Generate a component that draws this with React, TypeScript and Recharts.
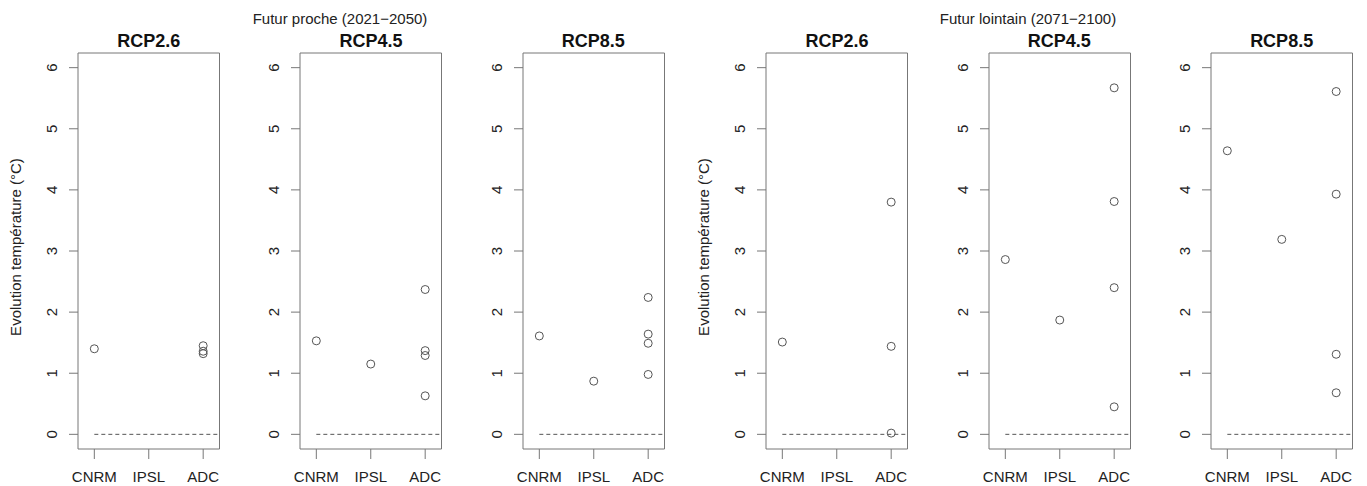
import { ScatterChart, Scatter, XAxis, YAxis, ReferenceLine, ReferenceArea } from "recharts"

// model names on the x axis (positions 1, 2, 3)
const models = ["CNRM", "IPSL", "ADC"]
const scenarios = ["RCP2.6", "RCP4.5", "RCP8.5"]
const periods = ["Futur proche (2021\u22122050)", "Futur lointain (2071\u22122100)"]
const yTicks = [0, 1, 2, 3, 4, 5, 6]
const yLabel = "Evolution température (°C)"

// [model, temperature change]
const procheRcp26: [string, number][] = [["CNRM", 1.4], ["ADC", 1.45], ["ADC", 1.36], ["ADC", 1.32]]
const procheRcp45: [string, number][] = [["CNRM", 1.53], ["IPSL", 1.15], ["ADC", 2.37], ["ADC", 1.37], ["ADC", 1.29], ["ADC", 0.63]]
const procheRcp85: [string, number][] = [["CNRM", 1.61], ["IPSL", 0.87], ["ADC", 2.24], ["ADC", 1.64], ["ADC", 1.49], ["ADC", 0.98]]
const lointainRcp26: [string, number][] = [["CNRM", 1.51], ["ADC", 3.8], ["ADC", 1.44], ["ADC", 0.02]]
const lointainRcp45: [string, number][] = [["CNRM", 2.86], ["IPSL", 1.87], ["ADC", 5.67], ["ADC", 3.81], ["ADC", 2.4], ["ADC", 0.45]]
const lointainRcp85: [string, number][] = [["CNRM", 4.64], ["IPSL", 3.19], ["ADC", 5.61], ["ADC", 3.93], ["ADC", 1.31], ["ADC", 0.68]]

const panels = [
  [procheRcp26, procheRcp45, procheRcp85],
  [lointainRcp26, lointainRcp45, lointainRcp85],
]

const FONT = "'Liberation Sans', Arial, sans-serif"
const BOX_TOP = 53
const BOX_BOTTOM = 449
const BOX_W = 141.5
const Y_AXIS_W = 70
const RIGHT = 4
const H = 486
const X_DOMAIN: [number, number] = [0.7, 3.3]
const Y_DOMAIN: [number, number] = [-0.24, 6.24]

const boxLeft = (g: number, p: number) => 78 + g * 688.3 + p * 222.3

const XTick = (props: any) => (
  <text x={props.x} y={props.y} dy="0.71em" textAnchor="middle" fontSize={15} fill="#222" fontFamily={FONT}>
    {models[props.payload.value - 1]}
  </text>
)

const YTick = (props: any) => (
  <text
    x={props.x}
    y={props.y}
    transform={`rotate(-90 ${props.x} ${props.y})`}
    textAnchor="middle"
    fontSize={15}
    fill="#222"
    fontFamily={FONT}
  >
    {props.payload.value}
  </text>
)

const Ring = (props: any) => (
  <circle cx={props.cx} cy={props.cy} r={4} fill="none" stroke="#555" strokeWidth={1} />
)

function Panel({ data, g, p }: { data: [string, number][]; g: number; p: number }) {
  const points = data.map(([m, v]) => ({ x: models.indexOf(m) + 1, y: v }))
  return (
    <div style={{ position: "absolute", left: boxLeft(g, p) - Y_AXIS_W, top: 0 }}>
      <ScatterChart
        width={Y_AXIS_W + BOX_W + RIGHT}
        height={H}
        margin={{ top: BOX_TOP, right: RIGHT, bottom: 0, left: 0 }}
      >
        <XAxis
          type="number"
          dataKey="x"
          domain={X_DOMAIN}
          allowDataOverflow
          ticks={[1, 2, 3]}
          interval={0}
          height={H - BOX_BOTTOM}
          axisLine={false}
          tickLine={{ stroke: "#777" }}
          tickSize={10}
          tickMargin={12}
          tick={<XTick />}
        />
        <YAxis
          type="number"
          dataKey="y"
          domain={Y_DOMAIN}
          allowDataOverflow
          ticks={yTicks}
          interval={0}
          width={Y_AXIS_W}
          axisLine={false}
          tickLine={{ stroke: "#777" }}
          tickSize={9}
          tickMargin={12}
          tick={<YTick />}
        />
        <ReferenceLine
          segment={[{ x: 1, y: 0 }, { x: X_DOMAIN[1], y: 0 }]}
          stroke="#555"
          strokeDasharray="4 3"
        />
        <ReferenceArea
          x1={X_DOMAIN[0]}
          x2={X_DOMAIN[1]}
          y1={Y_DOMAIN[0]}
          y2={Y_DOMAIN[1]}
          fill="none"
          stroke="#777"
          strokeWidth={1}
        />
        <Scatter data={points} shape={<Ring />} isAnimationActive={false} />
      </ScatterChart>
    </div>
  )
}

export default function App() {
  return (
    <div style={{ position: "absolute", left: 0, top: 0, width: 1367, height: H, background: "#fff" }}>
      {panels.map((group, g) =>
        group.map((data, p) => <Panel key={`${g}-${p}`} data={data} g={g} p={p} />)
      )}
      <svg width={1367} height={H} style={{ position: "absolute", left: 0, top: 0, pointerEvents: "none" }}>
        <text x={340} y={23.5} textAnchor="middle" fontSize={15} fill="#222" fontFamily={FONT}>
          {periods[0]}
        </text>
        <text x={1028} y={23.5} textAnchor="middle" fontSize={15} fill="#222" fontFamily={FONT}>
          {periods[1]}
        </text>
        {panels.map((group, g) =>
          group.map((_, p) => (
            <text
              key={`t${g}-${p}`}
              x={boxLeft(g, p) + BOX_W / 2}
              y={47}
              textAnchor="middle"
              fontSize={18}
              fontWeight="bold"
              fill="#111"
              fontFamily={FONT}
            >
              {scenarios[p]}
            </text>
          ))
        )}
        {[0, 1].map((g) => {
          const x = boxLeft(g, 0) - 57.5
          return (
            <text
              key={`yl${g}`}
              x={x}
              y={247}
              transform={`rotate(-90 ${x} 247)`}
              textAnchor="middle"
              fontSize={15}
              fill="#222"
              fontFamily={FONT}
            >
              {yLabel}
            </text>
          )
        })}
      </svg>
    </div>
  )
}
